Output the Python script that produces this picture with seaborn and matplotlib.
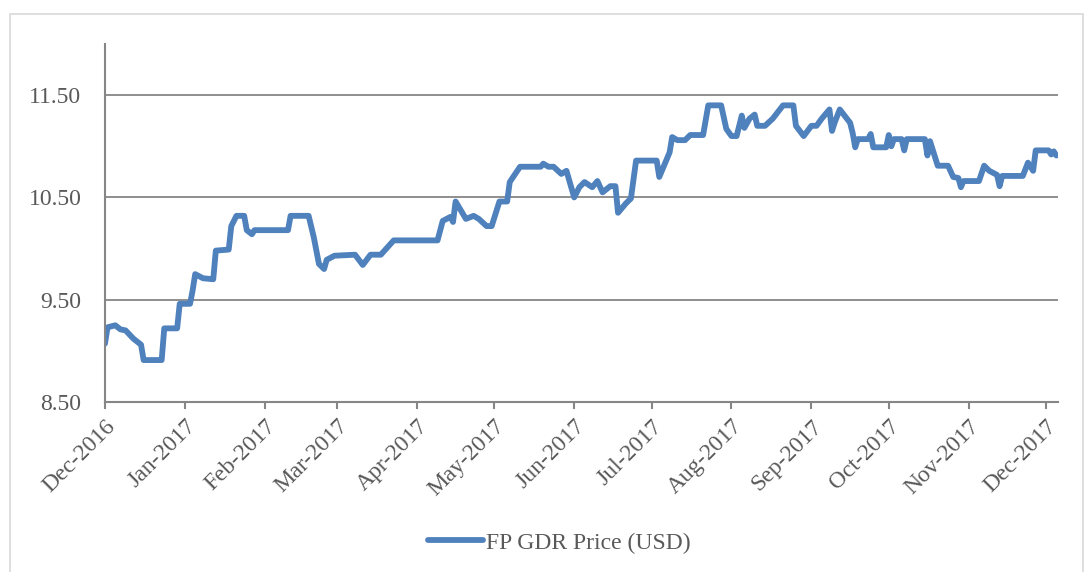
import matplotlib
matplotlib.use("Agg")
import matplotlib.pyplot as plt
import matplotlib.dates as mdates
from matplotlib.patches import Rectangle
import seaborn as sns
import pandas as pd

# values
dates = [
    "2016-12-01", "2016-12-02", "2016-12-05", "2016-12-07", "2016-12-09", "2016-12-12",
    "2016-12-15", "2016-12-16", "2016-12-23", "2016-12-24", "2016-12-29", "2016-12-30",
    "2017-01-03", "2017-01-04", "2017-01-05", "2017-01-08", "2017-01-12", "2017-01-13",
    "2017-01-18", "2017-01-19", "2017-01-21", "2017-01-24", "2017-01-25", "2017-01-27",
    "2017-01-28", "2017-02-10", "2017-02-11", "2017-02-18", "2017-02-20", "2017-02-22",
    "2017-02-24", "2017-02-25", "2017-02-28", "2017-03-08", "2017-03-11", "2017-03-14",
    "2017-03-18", "2017-03-23", "2017-04-09", "2017-04-11", "2017-04-14", "2017-04-15",
    "2017-04-16", "2017-04-20", "2017-04-23", "2017-04-25", "2017-04-28", "2017-04-30",
    "2017-05-03", "2017-05-06", "2017-05-07", "2017-05-11", "2017-05-19", "2017-05-20",
    "2017-05-22", "2017-05-24", "2017-05-27", "2017-05-29", "2017-06-01", "2017-06-03",
    "2017-06-05", "2017-06-08", "2017-06-10", "2017-06-12", "2017-06-15", "2017-06-17",
    "2017-06-18", "2017-06-21", "2017-06-23", "2017-06-25", "2017-07-03", "2017-07-04",
    "2017-07-08", "2017-07-09", "2017-07-11", "2017-07-14", "2017-07-16", "2017-07-21",
    "2017-07-23", "2017-07-28", "2017-07-30", "2017-08-01", "2017-08-03", "2017-08-05",
    "2017-08-06", "2017-08-08", "2017-08-10", "2017-08-11", "2017-08-14", "2017-08-17",
    "2017-08-21", "2017-08-25", "2017-08-26", "2017-08-29", "2017-09-01", "2017-09-03",
    "2017-09-05", "2017-09-08", "2017-09-09", "2017-09-10", "2017-09-12", "2017-09-16",
    "2017-09-17", "2017-09-18", "2017-09-19", "2017-09-23", "2017-09-24", "2017-09-25",
    "2017-09-30", "2017-10-01", "2017-10-02", "2017-10-03", "2017-10-06", "2017-10-07",
    "2017-10-08", "2017-10-15", "2017-10-16", "2017-10-17", "2017-10-20", "2017-10-24",
    "2017-10-26", "2017-10-28", "2017-10-29", "2017-10-30", "2017-11-05", "2017-11-07",
    "2017-11-09", "2017-11-12", "2017-11-13", "2017-11-14", "2017-11-22", "2017-11-24",
    "2017-11-26", "2017-11-27", "2017-12-02", "2017-12-03", "2017-12-04", "2017-12-05",
]
prices = [
    9.07, 9.23, 9.25, 9.21, 9.20, 9.12,
    9.06, 8.91, 8.91, 9.22, 9.22, 9.46,
    9.46, 9.59, 9.75, 9.71, 9.70, 9.98,
    9.99, 10.22, 10.32, 10.32, 10.18, 10.14,
    10.18, 10.18, 10.32, 10.32, 10.11, 9.85,
    9.80, 9.89, 9.93, 9.94, 9.84, 9.94,
    9.94, 10.08, 10.08, 10.27, 10.31, 10.26,
    10.46, 10.29, 10.32, 10.29, 10.22, 10.22,
    10.46, 10.46, 10.65, 10.80, 10.80, 10.83,
    10.80, 10.80, 10.73, 10.76, 10.50, 10.60,
    10.65, 10.60, 10.66, 10.55, 10.61, 10.61,
    10.35, 10.44, 10.49, 10.86, 10.86, 10.70,
    10.94, 11.09, 11.06, 11.06, 11.11, 11.11,
    11.40, 11.40, 11.17, 11.10, 11.10, 11.30,
    11.18, 11.27, 11.31, 11.20, 11.20, 11.27,
    11.40, 11.40, 11.20, 11.10, 11.20, 11.20,
    11.27, 11.36, 11.15, 11.23, 11.36, 11.23,
    11.13, 10.99, 11.07, 11.07, 11.12, 10.99,
    10.99, 11.11, 11.00, 11.07, 11.07, 10.96,
    11.07, 11.07, 10.91, 11.05, 10.81, 10.81,
    10.70, 10.69, 10.60, 10.66, 10.66, 10.81,
    10.76, 10.72, 10.61, 10.71, 10.71, 10.84,
    10.76, 10.96, 10.96, 10.92, 10.95, 10.91,
]
series_name = "FP GDR Price (USD)"
y_ticks = [8.5, 9.5, 10.5, 11.5]

df = pd.DataFrame({"Date": pd.to_datetime(dates), "Price": prices})

sns.set_style("white")
plt.rcParams["font.family"] = ["Liberation Serif", "DejaVu Serif"]

grey = "#868686"
text_grey = "#595959"

fig = plt.figure(figsize=(10.91, 5.72), dpi=100)
ax = fig.add_axes([0.0962, 0.2972, 0.8736, 0.6259])

# light outer chart border
fig.patches.append(Rectangle((10 / 1091, -0.05), 1073 / 1091, 1.05 - 14 / 572,
                             transform=fig.transFigure, fill=False,
                             edgecolor="#d9d9d9", linewidth=1.2))

sns.lineplot(data=df, x="Date", y="Price", ax=ax, color="#4F81BD",
             linewidth=4.2, label=series_name, estimator=None)
for line in ax.get_lines():
    line.set_solid_joinstyle("round")
    line.set_solid_capstyle("round")

ax.set_ylim(8.5, 12.0)
ax.set_xlim(pd.Timestamp("2016-12-01"), pd.Timestamp("2017-12-05 16:00"))
ax.set_yticks(y_ticks)
ax.yaxis.set_major_formatter(plt.FuncFormatter(lambda v, p: f"{v:.2f}"))
ax.xaxis.set_major_locator(mdates.MonthLocator())
ax.xaxis.set_major_formatter(mdates.DateFormatter("%b-%Y"))

for v in y_ticks[1:]:
    ax.axhline(v, color=grey, linewidth=1.3, zorder=0)

for s in ["top", "right"]:
    ax.spines[s].set_visible(False)
for s in ["left", "bottom"]:
    ax.spines[s].set_color(grey)
    ax.spines[s].set_linewidth(1.5)

ax.tick_params(axis="x", direction="out", length=5, width=1.5, color=grey,
               labelsize=17, labelcolor=text_grey, pad=5, bottom=True)
ax.tick_params(axis="y", length=0, labelsize=17, labelcolor=text_grey, pad=17)
plt.setp(ax.get_xticklabels(), rotation=45, ha="right", rotation_mode="anchor")
ax.set_xlabel("")
ax.set_ylabel("")

handles, labels = ax.get_legend_handles_labels()
ax.get_legend().remove()
leg = fig.legend(handles, labels, loc="center", bbox_to_anchor=(0.513, 0.051),
                 frameon=False, fontsize=17, handlelength=2.3, handletextpad=0.15,
                 labelcolor=text_grey)

fig.savefig("out.png", dpi=100)
